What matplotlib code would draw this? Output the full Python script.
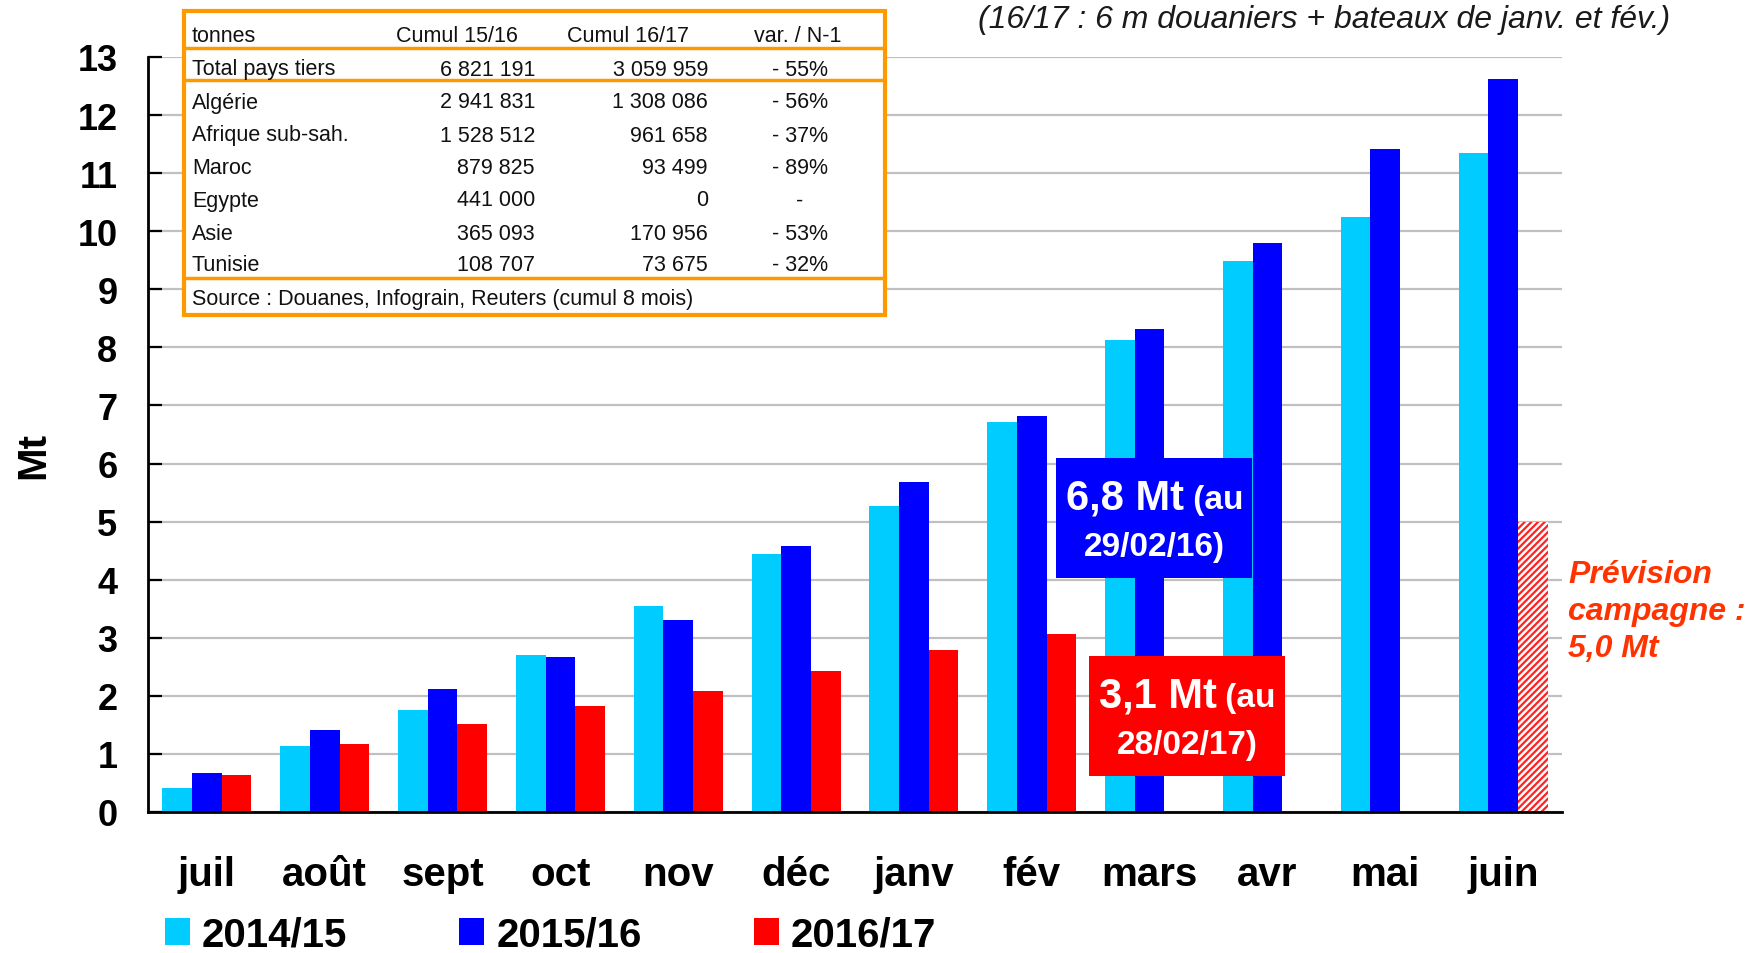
import matplotlib
matplotlib.use("Agg")
import matplotlib.pyplot as plt
import numpy as np
from matplotlib.patches import Rectangle, Patch
from matplotlib.lines import Line2D
from matplotlib.transforms import Affine2D
from matplotlib.offsetbox import TextArea, HPacker, VPacker, AnnotationBbox

plt.rcParams['font.family'] = ['Liberation Sans', 'DejaVu Sans']
plt.rcParams['hatch.linewidth'] = 1.6

# Cumulative exports, million tonnes
months = ['juil', 'août', 'sept', 'oct', 'nov', 'déc', 'janv', 'fév', 'mars', 'avr', 'mai', 'juin']
exp_1415 = [0.42, 1.13, 1.75, 2.71, 3.54, 4.44, 5.27, 6.71, 8.13, 9.48, 10.25, 11.35]
exp_1516 = [0.67, 1.42, 2.12, 2.67, 3.31, 4.58, 5.69, 6.82, 8.31, 9.79, 11.42, 12.62]
exp_1617 = [0.63, 1.17, 1.52, 1.83, 2.08, 2.42, 2.79, 3.06]
forecast_1617 = 5.0
seasons = ['2014/15', '2015/16', '2016/17']
colors = ['#00CCFF', '#0000FF', '#FF0000']

# Destination table (tonnes)
tbl_header = ['tonnes', 'Cumul 15/16', 'Cumul 16/17', 'var. / N-1']
tbl_dest = ['Total pays tiers', 'Algérie', 'Afrique sub-sah.', 'Maroc', 'Egypte', 'Asie', 'Tunisie']
tbl_1516 = [6821191, 2941831, 1528512, 879825, 441000, 365093, 108707]
tbl_1617 = [3059959, 1308086, 961658, 93499, 0, 170956, 73675]
tbl_var = ['- 55%', '- 56%', '- 37%', '- 89%', '-', '- 53%', '- 32%']
tbl_source = 'Source : Douanes, Infograin, Reuters (cumul 8 mois)'

W, H = 1749, 954
fig = plt.figure(figsize=(W / 100, H / 100), dpi=100)
ax = fig.add_axes([148 / W, 1 - 813 / H, 1414 / W, 755 / H])
# pixel coordinates, origin top-left
px = Affine2D().scale(1 / W, -1 / H).translate(0, 1) + fig.transFigure

x = np.arange(len(months))
bw = 0.252
b1 = ax.bar(x - bw, exp_1415, bw, color=colors[0], zorder=2)
b2 = ax.bar(x, exp_1516, bw, color=colors[1], zorder=2)
b3 = ax.bar(x[:len(exp_1617)] + bw, exp_1617, bw, color=colors[2], zorder=2)
ax.bar(x[-1] + bw, forecast_1617, bw, facecolor='white', edgecolor='#FF2020',
       hatch='/////', linewidth=0, zorder=2)

ax.set_xlim(-0.5, len(months) - 0.5)
ax.set_ylim(0, 13)
ax.set_yticks(range(0, 14))
ax.grid(axis='y', color='#C0C0C0', linewidth=1.6, zorder=0)
for s in ['top', 'right']:
    ax.spines[s].set_visible(False)
for s in ['left', 'bottom']:
    ax.spines[s].set_linewidth(2)
    ax.spines[s].set_zorder(3)
ax.tick_params(axis='y', direction='in', length=10, width=1.6, pad=22,
               labelsize=26)
ax.tick_params(axis='x', length=0, pad=31, labelsize=29)
ax.set_xticks(x, months)
for lbl in ax.get_xticklabels() + ax.get_yticklabels():
    lbl.set_fontweight('bold')

fig.text(33, 456, 'Mt', transform=px, rotation=90, ha='center', va='center',
         fontsize=29, fontweight='bold')

fig.text(978, 20, '(16/17 : 6 m douaniers + bateaux de janv. et fév.)',
         transform=px, ha='left', va='center', fontsize=23, style='italic',
         color='#1A1A1A')

fig.text(1568, 612, 'Prévision\ncampagne :\n5,0 Mt', transform=px,
         ha='left', va='center', fontsize=23, fontweight='bold',
         style='italic', color='#FF3300', linespacing=1.3)

# Callout boxes
def callout(x0, x1, y0, y1, color, big, small, line2):
    ax.add_patch(Rectangle((x0, y0), x1 - x0, y1 - y0, facecolor=color,
                           edgecolor='none', zorder=4))
    top = HPacker(children=[
        TextArea(big, textprops=dict(color='white', fontsize=30, fontweight='bold')),
        TextArea(small, textprops=dict(color='white', fontsize=24, fontweight='bold')),
    ], align='baseline', pad=0, sep=0)
    bot = TextArea(line2, textprops=dict(color='white', fontsize=24, fontweight='bold'))
    pack = VPacker(children=[top, bot], align='center', pad=0, sep=10)
    ab = AnnotationBbox(pack, ((x0 + x1) / 2, (y0 + y1) / 2 - 0.03), frameon=False,
                        box_alignment=(0.5, 0.5), zorder=5)
    ax.add_artist(ab)

callout(7.21, 8.87, 4.03, 6.10, colors[1], '6,8 Mt', ' (au', '29/02/16)')
callout(7.49, 9.15, 0.62, 2.69, colors[2], '3,1 Mt', ' (au', '28/02/17)')

# Table in the upper left
orange = '#FF9900'
fig.patches.append(Rectangle((184, 12), 701, 304, transform=px, facecolor='white',
                             edgecolor=orange, linewidth=3, zorder=5))
for yl in [49, 81, 279]:
    fig.lines.append(Line2D([186, 883], [yl, yl], transform=px, color=orange,
                            linewidth=2.5, zorder=6))
fs = 15.5
dy = 3
tkw = dict(transform=px, va='center', fontsize=fs, color='#111111', zorder=7)
fig.text(192, 33 + dy, tbl_header[0], ha='left', **tkw)
fig.text(457, 33 + dy, tbl_header[1], ha='center', **tkw)
fig.text(628, 33 + dy, tbl_header[2], ha='center', **tkw)
fig.text(798, 33 + dy, tbl_header[3], ha='center', **tkw)
row_y = [67, 100, 133, 166, 198, 231, 263]
for yr, name, a, b, v in zip(row_y, tbl_dest, tbl_1516, tbl_1617, tbl_var):
    fig.text(192, yr + dy, name, ha='left', **tkw)
    fig.text(535, yr + dy, f'{a:,}'.replace(',', ' '), ha='right', **tkw)
    fig.text(708, yr + dy, f'{b:,}'.replace(',', ' '), ha='right', **tkw)
    fig.text(800, yr + dy, v, ha='center', **tkw)
fig.text(192, 297 + dy, tbl_source, ha='left', **tkw)

# Legend
handles = [Patch(facecolor=c) for c in colors]
fig.legend(handles, seasons, loc='center left', bbox_to_anchor=(165 / W, 1 - 936 / H),
           ncol=3, frameon=False, borderpad=0, borderaxespad=0,
           handlelength=0.62, handleheight=0.65, handletextpad=0.3,
           columnspacing=2.78, prop=dict(family='Liberation Sans', weight='bold', size=29))

fig.savefig('out.png', dpi=100)
